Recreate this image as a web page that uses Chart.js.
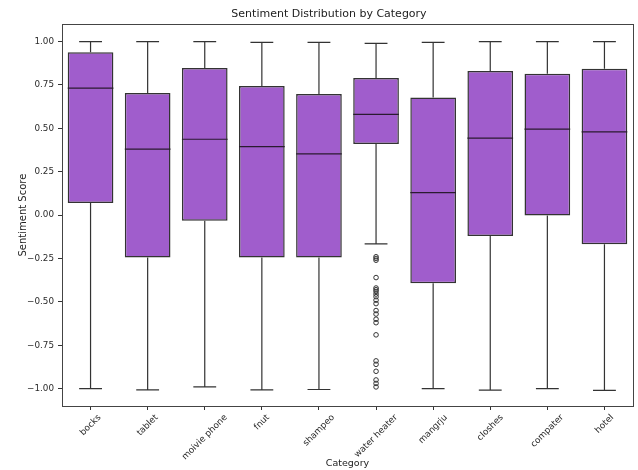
<!DOCTYPE html>
<html>
<head>
<meta charset="utf-8">
<script src="https://cdn.jsdelivr.net/npm/chart.js@4.4.1/dist/chart.umd.min.js"></script>
<style>
  html, body { margin: 0; padding: 0; background: #fff; }
  #wrap { width: 638px; height: 470px; }
</style>
</head>
<body>
<div id="wrap"><canvas id="boxChart" width="638" height="470"></canvas></div>
<script>
// categories and box stats
const categories = ['bocks', 'tablet', 'moivie phone', 'fnut', 'shampeo', 'water heater', 'mangrju', 'closhes', 'compater', 'hotel'];
const whiskerLow = [-1.0, -1.007, -0.99, -1.007, -1.005, -0.166, -1.0, -1.008, -1.0, -1.01];
const q1Values = [0.07, -0.245, -0.033, -0.245, -0.245, 0.41, -0.393, -0.12, -0.003, -0.168];
const medianValues = [0.732, 0.38, 0.437, 0.395, 0.353, 0.58, 0.13, 0.443, 0.495, 0.48];
const q3Values = [0.938, 0.703, 0.848, 0.744, 0.698, 0.79, 0.678, 0.83, 0.815, 0.844];
const whiskerHigh = [1.0, 1.0, 1.0, 0.995, 0.995, 0.99, 0.995, 1.0, 1.0, 1.0];

// outliers (only water heater has them)
const outlierCategory = 'water heater';
const outlierValues = [-0.24, -0.25, -0.26, -0.36, -0.42, -0.43, -0.44, -0.455, -0.47, -0.49, -0.51,
      -0.55, -0.57, -0.6, -0.62, -0.69, -0.84, -0.86, -0.9, -0.95, -0.97, -0.99];

const yTicks = [-1.0, -0.75, -0.5, -0.25, 0, 0.25, 0.5, 0.75, 1.0];

const lineColor = '#333333';
const fillColor = '#a05dcc';
const tickFont = "8.8px 'DejaVu Sans'";

// whiskers, caps and medians drawn with the chart's own scales
const whiskerPlugin = {
      id: 'whiskers',
      afterDatasetsDraw(chart) {
            const { ctx, scales: { x, y } } = chart;
            const meta = chart.getDatasetMeta(0);
            ctx.save();
            ctx.lineWidth = 1.2;
            categories.forEach((c, i) => {
                  const bar = meta.data[i];
                  const cx = x.getPixelForValue(i);
                  const half = bar.width / 2;
                  const capHalf = half / 2;
                  const yLo = y.getPixelForValue(whiskerLow[i]);
                  const yQ1 = y.getPixelForValue(q1Values[i]);
                  const yQ3 = y.getPixelForValue(q3Values[i]);
                  const yHi = y.getPixelForValue(whiskerHigh[i]);
                  const yMed = y.getPixelForValue(medianValues[i]);
                  ctx.strokeStyle = lineColor;
                  ctx.beginPath();
                  ctx.moveTo(cx, yQ1); ctx.lineTo(cx, yLo);
                  ctx.moveTo(cx - capHalf, yLo); ctx.lineTo(cx + capHalf, yLo);
                  ctx.moveTo(cx, yQ3); ctx.lineTo(cx, yHi);
                  ctx.moveTo(cx - capHalf, yHi); ctx.lineTo(cx + capHalf, yHi);
                  ctx.stroke();
                  ctx.strokeStyle = '#2a1a30';
                  ctx.beginPath();
                  ctx.moveTo(cx - half, yMed); ctx.lineTo(cx + half, yMed);
                  ctx.stroke();
            });
            ctx.restore();
      }
};

// frame round the plot and 45 degree category labels centred under their ticks
const framePlugin = {
      id: 'frame',
      afterDraw(chart) {
            const { ctx, chartArea: a, scales: { x } } = chart;
            ctx.save();
            ctx.strokeStyle = '#444';
            ctx.lineWidth = 1;
            ctx.strokeRect(Math.round(a.left) + 0.5, Math.round(a.top) + 0.5, Math.round(a.right - a.left), Math.round(a.bottom - a.top));

            ctx.font = tickFont;
            ctx.fillStyle = '#2b2b2b';
            ctx.textAlign = 'center';
            ctx.textBaseline = 'middle';
            const h = 8.8;
            categories.forEach((c, i) => {
                  const w = ctx.measureText(c).width;
                  const cx = x.getPixelForValue(i);
                  const cy = a.bottom + 7 + (w + h) * Math.SQRT1_2 / 2;
                  ctx.save();
                  ctx.translate(cx, cy);
                  ctx.rotate(-Math.PI / 4);
                  ctx.fillText(c, 0, 0);
                  ctx.restore();
            });
            ctx.restore();
      }
};

const ctx = document.getElementById('boxChart').getContext('2d');

new Chart(ctx, {
      type: 'bar',
      data: {
            labels: categories,
            datasets: [
                  {
                        label: 'box',
                        data: categories.map((c, i) => [q1Values[i], q3Values[i]]),
                        backgroundColor: fillColor,
                        borderColor: lineColor,
                        borderWidth: 1.5,
                        borderSkipped: false,
                        barPercentage: 0.8,
                        categoryPercentage: 1.0,
                        order: 2
                  },
                  {
                        type: 'line',
                        label: 'outliers',
                        data: outlierValues.map(v => ({ x: outlierCategory, y: v })),
                        showLine: false,
                        pointStyle: 'circle',
                        pointRadius: 2.3,
                        pointBorderWidth: 1,
                        pointBorderColor: lineColor,
                        pointBackgroundColor: 'rgba(0,0,0,0)',
                        order: 1
                  }
            ]
      },
      options: {
            responsive: false,
            animation: false,
            layout: { padding: { left: 17, right: -3, top: 0, bottom: 0 } },
            scales: {
                  x: {
                        offset: true,
                        grid: { display: true, offset: false, drawOnChartArea: false, drawTicks: true, tickLength: 4, color: '#333' },
                        border: { display: false },
                        ticks: { display: false },
                        title: { display: true, text: 'Category', color: '#222', font: { family: 'DejaVu Sans', size: 9.5 }, padding: { top: 0, bottom: 1 } },
                        afterFit: (scale) => { scale.height = 64; }
                  },
                  y: {
                        min: -1.1,
                        max: 1.1,
                        afterBuildTicks: (scale) => { scale.ticks = yTicks.map(v => ({ value: v })); },
                        grid: { display: true, drawOnChartArea: false, drawTicks: true, tickLength: 4, color: '#333' },
                        border: { display: false },
                        ticks: { color: '#2b2b2b', font: { family: 'DejaVu Sans', size: 8.8 }, padding: 4, callback: (v) => Number(v).toFixed(2).replace('-', '\u2212') },
                        title: { display: true, text: 'Sentiment Score', color: '#222', font: { family: 'DejaVu Sans', size: 10 }, padding: { top: 0, bottom: 2 } },
                        afterFit: (scale) => { scale.width = 45; }
                  }
            },
            plugins: {
                  legend: { display: false },
                  tooltip: { enabled: false },
                  title: {
                        display: true,
                        text: 'Sentiment Distribution by Category',
                        color: '#222',
                        font: { family: 'DejaVu Sans', size: 11, weight: 'normal' },
                        padding: { top: 8, bottom: 3 }
                  }
            }
      },
      plugins: [whiskerPlugin, framePlugin]
});
</script>
</body>
</html>
